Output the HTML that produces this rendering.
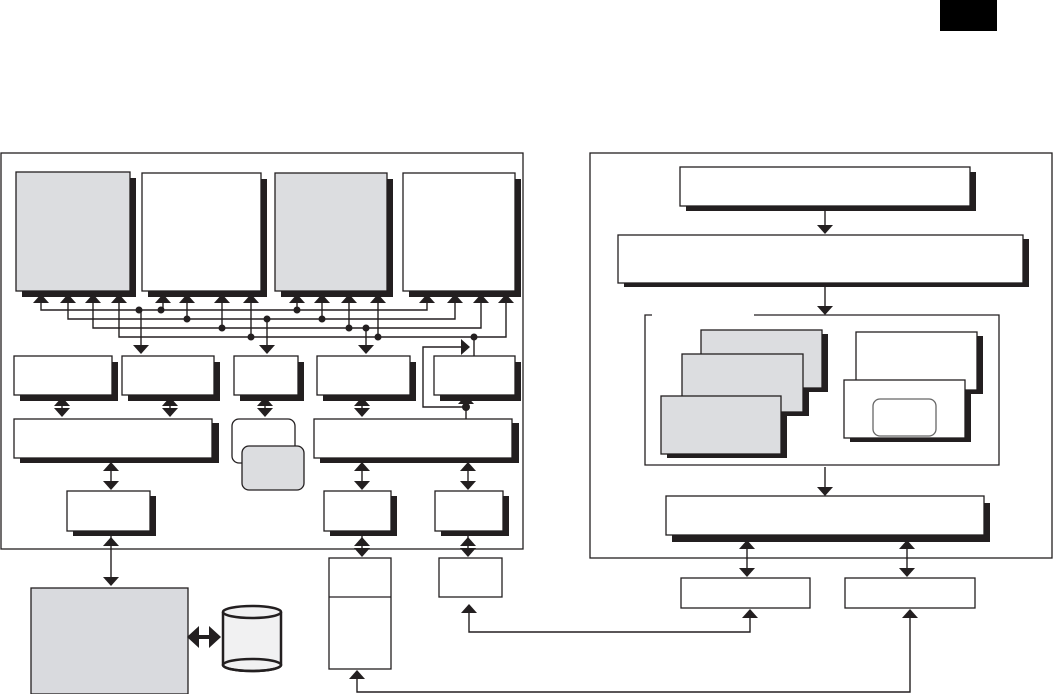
<!DOCTYPE html>
<html><head><meta charset="utf-8"><style>html,body{margin:0;padding:0;background:#fff}svg{display:block}</style></head>
<body>
<svg width="1053" height="694" viewBox="0 0 1053 694" xmlns="http://www.w3.org/2000/svg">
<defs>
<g id="up"><polygon points="-8,0 8,0 0,-9" fill="#231f20"/></g>
<g id="dn"><polygon points="-8,0 8,0 0,9" fill="#231f20"/></g>
</defs>
<rect x="940" y="0" width="57" height="31" fill="#000"/>
<g stroke="#231f20" stroke-width="1.3" fill="none">
<rect x="1" y="153" width="522" height="396" fill="#fff"/>
</g>
<g fill="#231f20">
<rect x="22" y="178" width="114" height="119"/>
<rect x="148" y="179" width="119" height="118"/>
<rect x="281" y="179" width="112" height="118"/>
<rect x="409" y="179" width="112" height="118"/>
<rect x="20" y="362" width="98" height="39"/>
<rect x="128" y="362" width="92" height="39"/>
<rect x="240" y="362" width="64" height="39"/>
<rect x="323" y="362" width="93" height="39"/>
<rect x="440" y="362" width="81" height="39"/>
<rect x="20" y="423" width="199" height="40"/>
<rect x="320" y="423" width="199" height="40"/>
<rect x="73" y="496" width="83" height="40"/>
<rect x="330" y="496" width="67" height="40"/>
<rect x="441" y="496" width="68" height="40"/>
<rect x="686" y="172" width="290" height="39"/>
<rect x="624" y="239" width="405" height="48"/>
<rect x="707" y="334" width="121" height="58"/>
<rect x="688" y="358" width="121" height="58"/>
<rect x="667" y="400" width="120" height="58"/>
<rect x="862" y="336" width="121" height="58"/>
<rect x="850" y="384" width="121" height="58"/>
<rect x="672" y="503" width="318" height="39"/>
</g>
<g stroke="#231f20" stroke-width="1.3">
<rect x="16" y="172" width="114" height="119" fill="#dcdde0"/>
<rect x="142" y="173" width="119" height="118" fill="#fff"/>
<rect x="275" y="173" width="112" height="118" fill="#dcdde0"/>
<rect x="403" y="173" width="112" height="118" fill="#fff"/>
<rect x="14" y="356" width="98" height="39" fill="#fff"/>
<rect x="122" y="356" width="92" height="39" fill="#fff"/>
<rect x="234" y="356" width="64" height="39" fill="#fff"/>
<rect x="317" y="356" width="93" height="39" fill="#fff"/>
<rect x="434" y="356" width="81" height="39" fill="#fff"/>
<rect x="14" y="419" width="198" height="39" fill="#fff"/>
<rect x="314" y="419" width="198" height="39" fill="#fff"/>
<rect x="232" y="419" width="63" height="44" rx="7" fill="#fff"/>
<rect x="242" y="446" width="62" height="44" rx="7" fill="#dcdde0"/>
<rect x="67" y="491" width="83" height="40" fill="#fff"/>
<rect x="324" y="491" width="67" height="40" fill="#fff"/>
<rect x="435" y="491" width="68" height="40" fill="#fff"/>
<rect x="31" y="588" width="157" height="106" fill="#d9dade"/>
<rect x="329" y="558" width="62" height="111" fill="#fff"/>
<line x1="329" y1="597" x2="391" y2="597"/>
<rect x="439" y="558" width="63" height="39" fill="#fff"/>
<rect x="590" y="153" width="462" height="405" fill="none"/>
<rect x="680" y="167" width="290" height="39" fill="#fff"/>
<rect x="618" y="235" width="405" height="48" fill="#fff"/>
<path d="M652,315 H645 V465 H999 V315 H754" fill="none"/>
<rect x="701" y="330" width="121" height="58" fill="#dcdde0"/>
<rect x="682" y="354" width="121" height="58" fill="#dcdde0"/>
<rect x="661" y="396" width="120" height="58" fill="#dcdde0"/>
<rect x="856" y="332" width="121" height="58" fill="#fff"/>
<rect x="844" y="380" width="121" height="58" fill="#fff"/>
<rect x="873" y="399" width="63" height="37" rx="7" fill="#fff" stroke="#666"/>
<rect x="666" y="496" width="318" height="39" fill="#fff"/>
<rect x="681" y="578" width="129" height="30" fill="#fff"/>
<rect x="845" y="578" width="130" height="30" fill="#fff"/>
</g>
<g stroke="#231f20" stroke-width="1.4" fill="none">
<path d="M41,303 V310 H427 V303"/>
<path d="M68,303 V319 H455 V303"/>
<path d="M93,303 V328 H481 V303"/>
<path d="M119,303 V337 H506 V303"/>
<line x1="163" y1="303" x2="163" y2="310"/>
<line x1="187" y1="303" x2="187" y2="319"/>
<line x1="222" y1="303" x2="222" y2="328"/>
<line x1="251" y1="303" x2="251" y2="337"/>
<line x1="297" y1="303" x2="297" y2="310"/>
<line x1="322" y1="303" x2="322" y2="319"/>
<line x1="349" y1="303" x2="349" y2="328"/>
<line x1="378" y1="303" x2="378" y2="337"/>
<line x1="141" y1="310" x2="141" y2="346"/>
<line x1="267" y1="319" x2="267" y2="346"/>
<line x1="366" y1="328" x2="366" y2="346"/>
<line x1="474" y1="337" x2="474" y2="356"/>
<path d="M465,347 H423 V407 H466"/>
<line x1="466" y1="395" x2="466" y2="419"/>
<line x1="62" y1="399" x2="62" y2="415"/>
<line x1="170" y1="399" x2="170" y2="415"/>
<line x1="265" y1="399" x2="265" y2="415"/>
<line x1="362" y1="399" x2="362" y2="415"/>
<line x1="111" y1="463" x2="111" y2="488"/>
<line x1="362" y1="463" x2="362" y2="488"/>
<line x1="468" y1="463" x2="468" y2="488"/>
<line x1="111" y1="536" x2="111" y2="584"/>
<line x1="362" y1="536" x2="362" y2="554"/>
<line x1="468" y1="536" x2="468" y2="554"/>
<path d="M469,607 V632 H750 V614"/>
<path d="M357,677 V692 H910 V614"/>
<line x1="825" y1="206" x2="825" y2="228"/>
<line x1="825" y1="283" x2="825" y2="308"/>
<line x1="825" y1="467" x2="825" y2="489"/>
<line x1="747" y1="540" x2="747" y2="574"/>
<line x1="907" y1="540" x2="907" y2="574"/>
</g>
<g fill="#231f20">
<use href="#up" x="41" y="303"/><use href="#up" x="68" y="303"/><use href="#up" x="93" y="303"/><use href="#up" x="119" y="303"/>
<use href="#up" x="163" y="303"/><use href="#up" x="187" y="303"/><use href="#up" x="222" y="303"/><use href="#up" x="251" y="303"/>
<use href="#up" x="297" y="303"/><use href="#up" x="322" y="303"/><use href="#up" x="349" y="303"/><use href="#up" x="378" y="303"/>
<use href="#up" x="427" y="303"/><use href="#up" x="455" y="303"/><use href="#up" x="481" y="303"/><use href="#up" x="506" y="303"/>
<circle cx="139" cy="310" r="3.5"/><circle cx="161" cy="310" r="3.5"/><circle cx="297" cy="310" r="3.5"/>
<circle cx="187" cy="319" r="3.5"/><circle cx="267" cy="319" r="3.5"/><circle cx="322" cy="319" r="3.5"/>
<circle cx="222" cy="328" r="3.5"/><circle cx="349" cy="328" r="3.5"/><circle cx="366" cy="328" r="3.5"/>
<circle cx="251" cy="337" r="3.5"/><circle cx="378" cy="337" r="3.5"/><circle cx="474" cy="337" r="3.5"/>
<circle cx="466" cy="407" r="4"/>
<use href="#dn" x="141" y="345"/><use href="#dn" x="267" y="345"/><use href="#dn" x="366" y="345"/>
<polygon points="461,339 461,355 470,347"/>
<use href="#up" x="466" y="404"/>
<use href="#up" x="62" y="406"/><use href="#dn" x="62" y="408"/>
<use href="#up" x="170" y="406"/><use href="#dn" x="170" y="408"/>
<use href="#up" x="265" y="406"/><use href="#dn" x="265" y="408"/>
<use href="#up" x="362" y="406"/><use href="#dn" x="362" y="408"/>
<use href="#up" x="111" y="471"/><use href="#dn" x="111" y="481"/>
<use href="#up" x="362" y="471"/><use href="#dn" x="362" y="481"/>
<use href="#up" x="468" y="471"/><use href="#dn" x="468" y="481"/>
<use href="#up" x="111" y="546"/><use href="#dn" x="111" y="577"/>
<use href="#up" x="362" y="546"/><use href="#dn" x="362" y="548"/>
<use href="#up" x="468" y="546"/><use href="#dn" x="468" y="548"/>
<use href="#up" x="469" y="613"/><use href="#up" x="750" y="618"/>
<use href="#up" x="357" y="679"/><use href="#up" x="910" y="618"/>
<use href="#dn" x="825" y="225"/><use href="#dn" x="825" y="306"/><use href="#dn" x="825" y="487"/>
<use href="#up" x="747" y="549"/><use href="#dn" x="747" y="568"/>
<use href="#up" x="907" y="549"/><use href="#dn" x="907" y="568"/>
<polygon points="187,637 199,626 199,648"/><polygon points="221,637 209,626 209,648"/>
<rect x="198" y="635" width="12" height="4"/>
</g>
<g stroke="#231f20" stroke-width="2.5" fill="#f1f1f2">
<path d="M223,612 V665 A29,6 0 0 0 281,665 V612"/>
<ellipse cx="252" cy="665" rx="29" ry="6" fill="none"/>
<ellipse cx="252" cy="612" rx="29" ry="6"/>
</g>
</svg>
</body></html>
